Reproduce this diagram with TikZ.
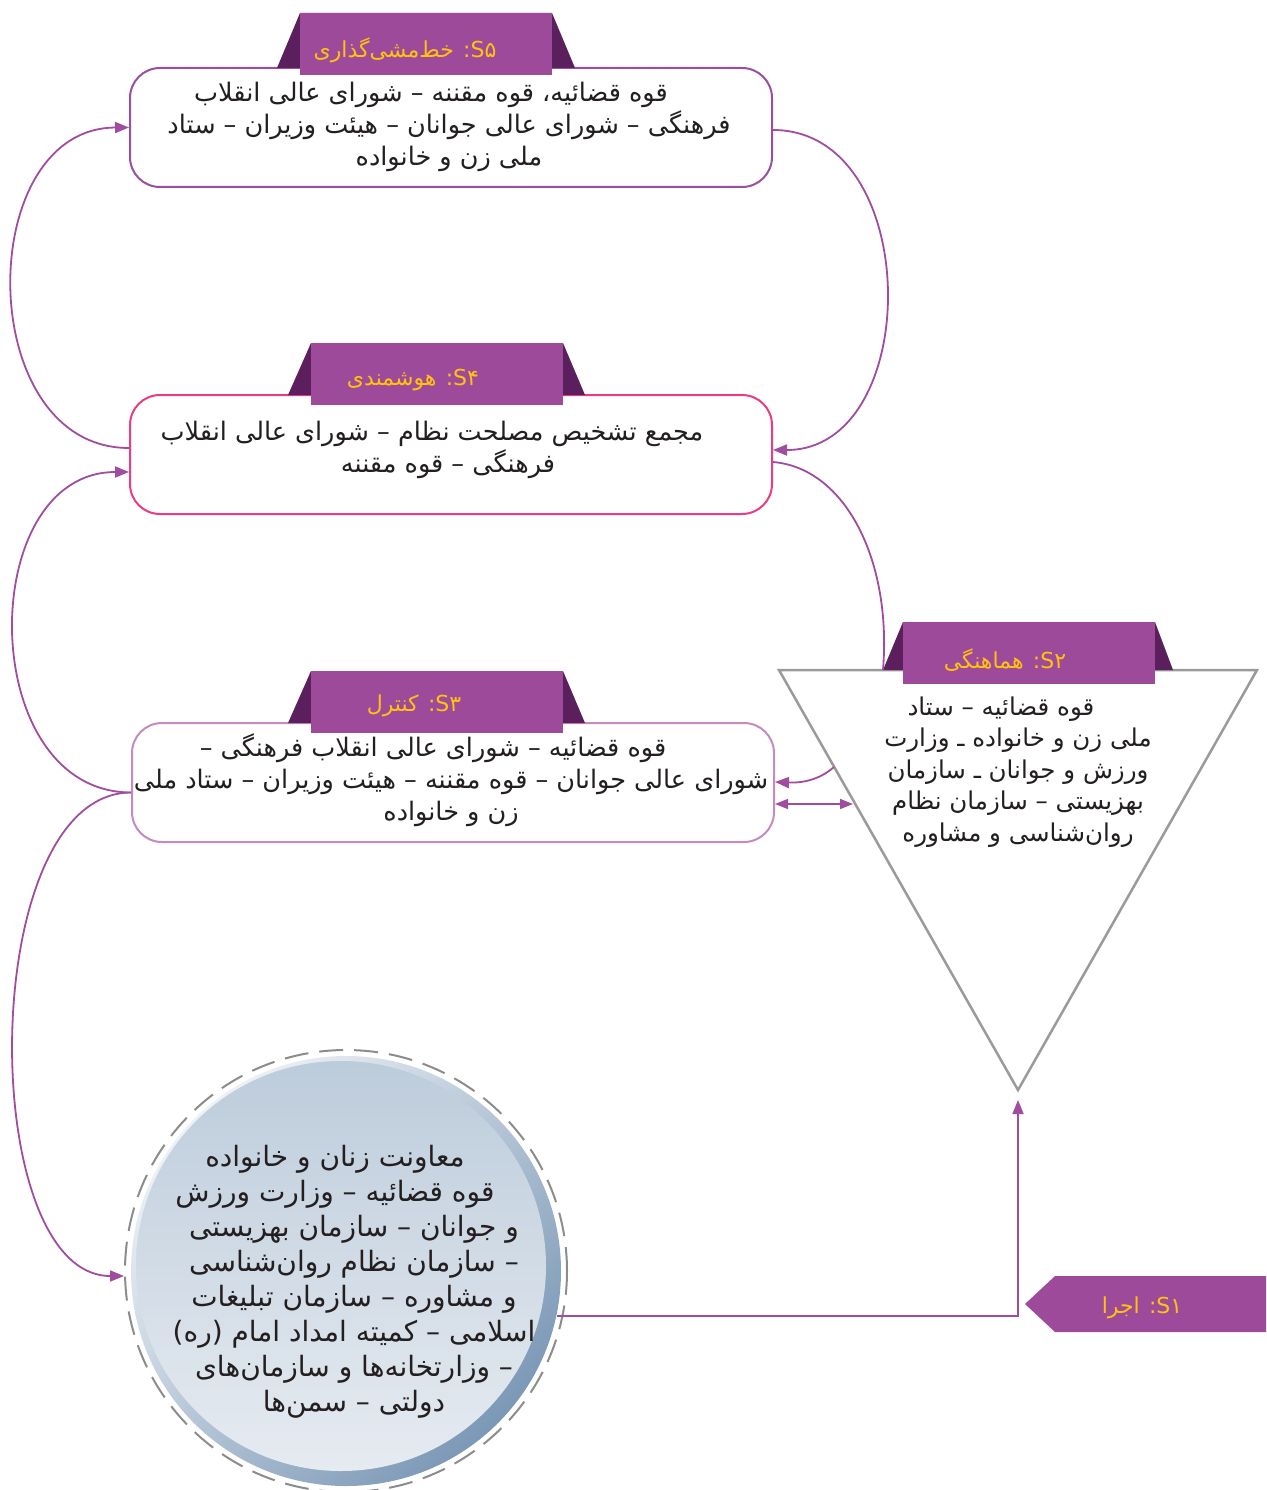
\documentclass[tikz,border=0pt]{standalone}
\usepackage{fontspec}
\usetikzlibrary{arrows.meta,calc}
\TeXXeTstate=1
\newfontfamily\fa[Script=Arabic]{DejaVu Sans}
\newcommand{\myRL}[1]{\hbox{\beginR #1\endR}}
\newcommand{\myLR}[1]{\beginL #1\endL{}}
\definecolor{tabpurple}{HTML}{9E4A9B}
\definecolor{tabdark}{HTML}{5C1F5E}
\definecolor{tabtext}{HTML}{FFC20E}
\definecolor{linkc}{HTML}{A04C9F}
\definecolor{bfive}{HTML}{9B4FA0}
\definecolor{bfour}{HTML}{EC3B83}
\definecolor{bthree}{HTML}{C58BBD}
\definecolor{trigray}{HTML}{9A9A9A}
\definecolor{bodytext}{HTML}{231F20}
\definecolor{dashgray}{HTML}{8C8C8C}
\definecolor{ringlight}{HTML}{EEF2F6}
\definecolor{ringdark}{HTML}{7B98B6}
\definecolor{disktop}{HTML}{BDCCDB}
\definecolor{diskbot}{HTML}{E6EBF1}
\begin{document}
\begin{tikzpicture}[x=1pt,y=-1pt,
  box/.style={draw, line width=2pt, rounded corners=30pt, minimum width=642pt, minimum height=119pt, fill=white, inner sep=0},
  body/.style={font=\fa\fontsize{25.5}{32}\selectfont, text=bodytext, align=center, inner sep=0},
  circbody/.style={font=\fa\fontsize{28}{35}\selectfont, text=bodytext, align=center, inner sep=0},
  tablabel/.style={font=\fa\fontsize{22}{26}\selectfont, text=tabtext, inner sep=0},
  link/.style={draw=linkc, line width=1.8pt},
  arr/.style={-{Triangle[length=14pt,width=11pt]}},
  darr/.style={{Triangle[length=13pt,width=10pt]}-{Triangle[length=13pt,width=10pt]}},
]
\useasboundingbox (0,0) rectangle (1266,1490);

% ---------- S5 ----------
\node[box, draw=bfive] (s5) at (451,127.5) {};
\fill[tabdark] (277,68) -- (300,13) -- (552,13) -- (575,68) -- cycle;
\fill[tabpurple] (300,13) rectangle (552,75);
\node[tablabel] (l5) at (405,50) {\myRL{\myLR{S۵}: خط‌مشی‌گذاری}};
\node[body] (t5) at (449,127) {\myRL{\hspace{36pt}قوه قضائیه، قوه مقننه – شورای عالی انقلاب}\\
  \myRL{فرهنگی – شورای عالی جوانان – هیئت وزیران – ستاد}\\
  \myRL{ملی زن و خانواده}};

% ---------- S4 ----------
\node[box, draw=bfour] (s4) at (451,454.5) {};
\fill[tabdark] (288,395) -- (311,343) -- (563,343) -- (585,395) -- cycle;
\fill[tabpurple] (311,343) rectangle (563,405);
\node[tablabel] (l4) at (413,380) {\myRL{\myLR{S۴}: هوشمندی}};
\node[body] (t4) at (448,450) {\myRL{\hspace{32pt}مجمع تشخیص مصلحت نظام – شورای عالی انقلاب}\\
  \myRL{فرهنگی – قوه مقننه}};

% ---------- S3 ----------
\node[box, draw=bthree] (s3) at (453,782.5) {};
\fill[tabdark] (288,723) -- (311,671) -- (563,671) -- (585,723) -- cycle;
\fill[tabpurple] (311,671) rectangle (563,733);
\node[tablabel] (l3) at (414,706) {\myRL{\myLR{S۳}: کنترل}};
\node[body] (t3) at (451,780) {\myRL{\hspace{36pt}قوه قضائیه – شورای عالی انقلاب فرهنگی –}\\
  \myRL{شورای عالی جوانان – قوه مقننه – هیئت وزیران – ستاد ملی}\\
  \myRL{زن و خانواده}};

% ---------- S2 triangle ----------
\coordinate (tl) at (779,670);
\coordinate (tr) at (1257,670);
\coordinate (apex) at (1018,1090);
\draw[trigray, line width=2.5pt, line join=miter] (tl) -- (tr) -- (apex) -- cycle;
\coordinate (t2bl) at (883,670);
\fill[tabdark] (t2bl) -- (903,622) -- (1155,622) -- (1173,670) -- cycle;
\fill[tabpurple] (903,622) rectangle (1155,684);
\node[tablabel] (l2) at (1005,660) {\myRL{\myLR{S۲}: هماهنگی}};
\node[body, font=\fa\fontsize{24.5}{31.5}\selectfont] (t2) at (1018,772) {\myRL{\hspace{34pt}قوه قضائیه – ستاد}\\
  \myRL{ملی زن و خانواده ـ وزارت}\\
  \myRL{ورزش و جوانان ـ سازمان}\\
  \myRL{بهزیستی – سازمان نظام}\\
  \myRL{روان‌شناسی و مشاوره}};
\coordinate (e5) at (834,767);
\coordinate (e6) at (853,804);

% ---------- S1 circle ----------
\node[circle, minimum size=430pt, inner sep=0, top color=ringlight, bottom color=ringdark, shading angle=45] (ring) at (346,1271) {};
\node[circle, minimum size=410pt, inner sep=0, top color=disktop, bottom color=diskbot] (disk) at (341,1266) {};
\node[circle, draw=dashgray, line width=2pt, dash pattern=on 24pt off 11pt, minimum size=442pt, inner sep=0] (dash) at (346,1271) {};
\node[circbody] (t1) at (354,1282) {\myRL{\hspace{38pt}معاونت زنان و خانواده}\\
  \myRL{\hspace{38pt}قوه قضائیه – وزارت ورزش}\\
  \myRL{و جوانان – سازمان بهزیستی}\\
  \myRL{– سازمان نظام روان‌شناسی}\\
  \myRL{و مشاوره – سازمان تبلیغات}\\
  \myRL{اسلامی – کمیته امداد امام (ره)}\\
  \myRL{– وزارتخانه‌ها و سازمان‌های}\\
  \myRL{دولتی – سمن‌ها}};

% S1 tab
\fill[tabpurple] (1025,1304) -- (1055,1276) -- (1266,1276) -- (1266,1332) -- (1055,1332) -- cycle;
\node[tablabel] (l1) at (1142,1308) {\myRL{\myLR{S۱}: اجرا}};

% ---------- connectors ----------
\draw[link,arr] ([yshift=6.5pt]s4.west) .. controls (-27,448) and (-27,128) .. (s5.west);
\draw[link,arr] ([yshift=-2.5pt]s5.east) .. controls (924,130) and (924,450) .. ([yshift=4.5pt]s4.east);
\draw[link,arr] ([yshift=-10pt]s3.west) .. controls (-25,792) and (-25,472) .. ([yshift=-17.5pt]s4.west);
\draw[link] ([yshift=-7.5pt]s4.east) .. controls (845,468) and (892,560) .. (t2bl);
\draw[link,arr] (e5) .. controls (818,781) and (800,783) .. ([yshift=0.5pt]s3.east);
\draw[link,darr, line width=1.5pt] ([yshift=-21.5pt]s3.east) -- (e6);
\draw[link,arr] ([yshift=-10pt]s3.west) .. controls (-24,793) and (-24,1276) .. ([yshift=-5pt]dash.west);
\draw[link,arr] (ring.-12.6) -| ($(apex)+(0,10)$);
\end{tikzpicture}
\end{document}
